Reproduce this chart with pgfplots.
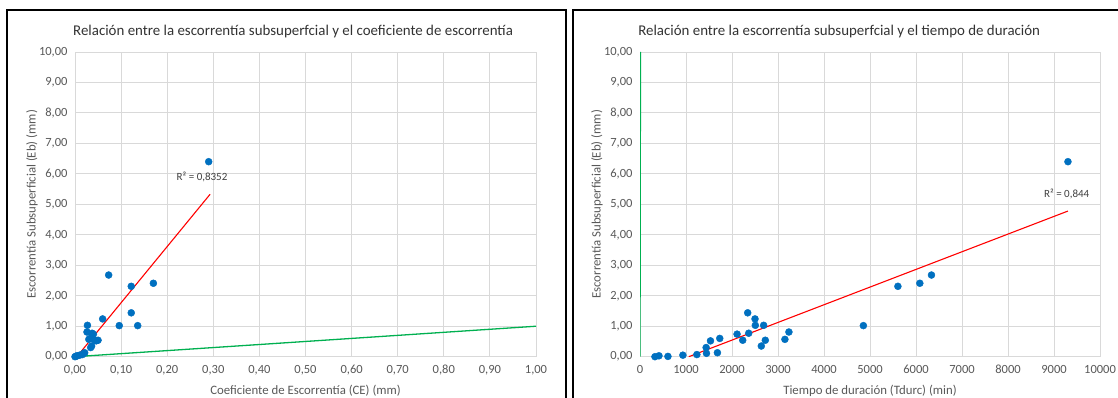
\documentclass[border=0pt]{standalone}
\usepackage{pgfplots}
\pgfplotsset{compat=1.18}
\usepackage{fontspec}
\setmainfont{Carlito}
\definecolor{ptblue}{RGB}{0,112,192}
\definecolor{txtgray}{RGB}{89,89,89}
\definecolor{gridgray}{RGB}{217,217,217}
\definecolor{exgreen}{RGB}{0,176,80}
\pgfplotsset{
  excel/.style={
    scale only axis, width=461pt, height=304.7pt,
    anchor=south west,
    ymin=0, ymax=10, ytick={0,1,...,10},
    grid=major, major grid style={gridgray, line width=0.9pt},
    axis line style={gridgray, line width=0.9pt},
    major tick length=0pt,
    tick label style={font=\fontsize{12.5}{13}\selectfont, text=txtgray},
    /pgf/number format/assume math mode=true,
    /pgf/number format/use comma,
    yticklabel style={/pgf/number format/fixed,/pgf/number format/fixed zerofill,/pgf/number format/precision=2, xshift=-4pt},
    xticklabel style={yshift=-5pt},
    title style={font=\fontsize{14.9}{16}\selectfont, text=black!80, anchor=center},
    label style={font=\fontsize{12.8}{13}\selectfont, text=txtgray},
    xlabel style={at={(axis description cs:0.5,0)}, anchor=center, yshift=-34pt},
    ylabel style={at={(axis description cs:-0.0933,0.5)}, anchor=center},
    clip=true,
  }
}
\begin{document}
\begin{tikzpicture}
\useasboundingbox (0pt,0pt) rectangle (1118pt,398pt);
\fill[white] (0pt,0pt) rectangle (1118pt,398pt);
\draw[black, line width=1.3pt] (7pt,-10pt) -- (7pt,388pt) -- (566pt,388pt) -- (566pt,-10pt);
\draw[black, line width=1.3pt] (573pt,-10pt) -- (573pt,388pt) -- (1130pt,388pt);

\begin{axis}[excel, at={(75pt,41.3pt)},
  xmin=0, xmax=1, xtick={0,0.1,...,1.01},
  xticklabel style={/pgf/number format/fixed,/pgf/number format/fixed zerofill,/pgf/number format/precision=2},
  title={Relación entre la escorrentía subsuperfcial y el coeficiente de escorrentía},
  title style={at={(axis description cs:0.473,1)}, yshift=14pt},
  xlabel={Coeficiente de Escorrentía (CE) (mm)},
  ylabel={Escorrentía Subsuperficial (Eb) (mm)},
]
\addplot[exgreen, line width=1.3pt] coordinates {(0,0) (1,1)};
\addplot[only marks, mark=*, mark size=3.5pt, mark options={fill=ptblue, draw=ptblue}] coordinates {
(0.290,6.40) (0.073,2.68) (0.122,2.31) (0.170,2.41) (0.122,1.44) (0.060,1.24)
(0.027,1.03) (0.096,1.02) (0.136,1.02) (0.026,0.81) (0.037,0.77) (0.040,0.74)
(0.033,0.60) (0.030,0.57) (0.050,0.54) (0.046,0.52) (0.043,0.54) (0.036,0.35)
(0.034,0.30) (0.021,0.13) (0.019,0.11) (0.016,0.07) (0.010,0.05) (0.004,0.03)
(0.002,0.01) (0.000,0.00)
};
\addplot[red, line width=1.1pt] coordinates {(0.004,0) (0.293,5.33)};
\node[font=\fontsize{11}{12}\selectfont, text=black!75] at (axis cs:0.2755,5.89) {R² = 0,8352};
\end{axis}

\begin{axis}[excel, at={(640pt,41.3pt)}, width=460pt,
  xmin=0, xmax=10000, xtick={0,1000,...,10000},
  xticklabel style={/pgf/number format/fixed, /pgf/number format/1000 sep={}},
  scaled x ticks=false,
  title={Relación entre la escorrentía subsuperfcial y el tiempo de duración},
  title style={at={(axis description cs:0.433,1)}, yshift=14pt},
  xlabel={Tiempo de duración (Tdurc) (min)},
  ylabel={Escorrentía Subsuperficial (Eb) (mm)},
]
\addplot[exgreen, line width=1.3pt] coordinates {(0,0) (10,10)};
\addplot[only marks, mark=*, mark size=3.5pt, mark options={fill=ptblue, draw=ptblue}] coordinates {
(325,0.00) (412,0.03) (607,0.01) (932,0.05) (1236,0.07) (1438,0.30) (1445,0.11)
(1532,0.52) (1683,0.13) (1734,0.60) (2110,0.74) (2233,0.54) (2341,1.44) (2363,0.77)
(2500,1.24) (2507,1.03) (2637,0.35) (2688,1.03) (2724,0.54) (3150,0.57) (3237,0.81)
(4856,1.02) (5606,2.31) (6083,2.41) (6336,2.68) (9303,6.40)
};
\addplot[red, line width=1.1pt] coordinates {(1060,0) (9303,4.78)};
\node[font=\fontsize{11}{12}\selectfont, text=black!75] at (axis cs:9276,5.34) {R² = 0,844};
\end{axis}
\end{tikzpicture}
\end{document}
